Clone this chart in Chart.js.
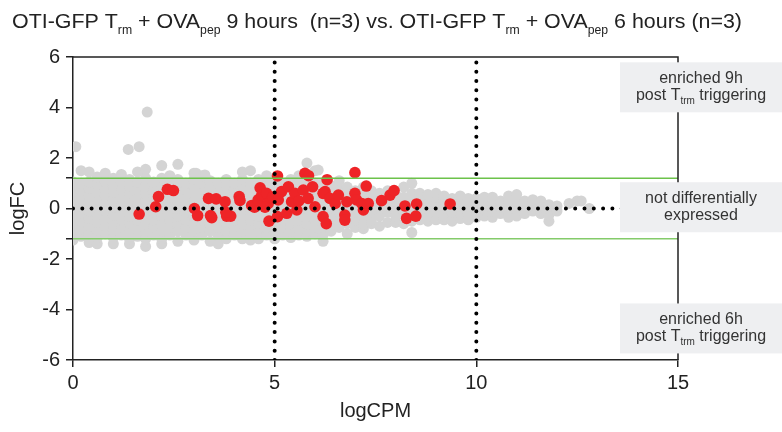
<!DOCTYPE html>
<html>
<head>
<meta charset="utf-8">
<script src="https://cdn.jsdelivr.net/npm/chart.js@4.4.1/dist/chart.umd.min.js"></script>
<style>
  html, body { margin: 0; padding: 0; background: #fff; }
</style>
</head>
<body>
<canvas id="chart" width="782" height="432"></canvas>
<script>
// axis ticks and cut-offs
const xTicks = [0, 5, 10, 15];
const yTicks = [-6, -4, -2, -1.2, 0, 1.2, 2, 4, 6];
const foldCut = 1.2;
const cpmCuts = [5, 10];

// title pieces: [text, isSubscript]
const titleParts = [
    ["OTI-GFP T", false], ["rm", true], [" + OVA", false], ["pep", true],
    [" 9 hours  (n=3) vs. OTI-GFP T", false], ["rm", true], [" + OVA", false], ["pep", true],
    [" 6 hours (n=3)", false]
];

// side labels: [logFC centre, line 1, line 2 parts]
const sideLabels = [
    [4.8, "enriched 9h", [["post T", false], ["trm", true], [" triggering", false]]],
    [0.05, "not differentially", [["expressed", false]]],
    [-4.75, "enriched 6h", [["post T", false], ["trm", true], [" triggering", false]]]
];

// all genes, read column by column: [logCPM, [logFC, ...]]
const grayCloud = [
    [0.0, [-1.25, -0.95, -0.65, -0.35, -0.05, 0.25, 0.55, 0.85, 1.05]],
    [0.2, [-1.1, -0.8, -0.5, -0.2, 0.1, 0.4, 0.7, 1.0, 1.5]],
    [0.4, [-1.35, -1.0, -0.7, -0.4, -0.1, 0.2, 0.5, 0.8, 1.05, 1.45]],
    [0.6, [-1.4, -1.15, -0.85, -0.55, -0.25, 0.05, 0.35, 0.65, 0.95, 1.25]],
    [0.8, [-1.0, -0.7, -0.4, -0.1, 0.2, 0.5, 0.8, 1.05, 1.4]],
    [1.0, [-1.4, -1.15, -0.85, -0.55, -0.25, 0.05, 0.35, 0.65, 0.95, 1.2]],
    [1.2, [-1.05, -0.75, -0.45, -0.15, 0.15, 0.45, 0.75, 1.05, 1.35]],
    [1.4, [-1.4, -1.2, -0.9, -0.6, -0.3, 0, 0.3, 0.6, 0.9, 1.15]],
    [1.6, [-1.1, -0.75, -0.45, -0.15, 0.15, 0.45, 0.75, 1.05, 1.45]],
    [1.8, [-1.5, -1.2, -0.9, -0.6, -0.3, 0, 0.3, 0.6, 0.9, 1.2, 1.55]],
    [2.0, [-1.05, -0.75, -0.45, -0.15, 0.15, 0.45, 0.75, 1.05]],
    [2.2, [-1.4, -1.2, -0.9, -0.6, -0.3, 0, 0.3, 0.6, 0.9, 1.2, 1.7]],
    [2.4, [-1.05, -0.75, -0.45, -0.15, 0.15, 0.45, 0.75, 1.05, 1.3]],
    [2.6, [-1.3, -0.9, -0.6, -0.3, 0, 0.3, 0.6, 0.9, 1.15, 1.75]],
    [2.8, [-1.05, -0.75, -0.45, -0.15, 0.15, 0.45, 0.75, 1.0]],
    [3.0, [-1.25, -0.9, -0.6, -0.3, 0, 0.3, 0.6, 0.9, 1.15, 1.4]],
    [3.2, [-1.05, -0.75, -0.45, -0.15, 0.15, 0.45, 0.75, 1.0, 1.3]],
    [3.4, [-1.3, -0.9, -0.6, -0.3, 0, 0.3, 0.6, 0.9, 1.1]],
    [3.6, [-1.4, -1.05, -0.75, -0.45, -0.15, 0.15, 0.45, 0.75, 1.0]],
    [3.8, [-1.2, -0.9, -0.6, -0.3, 0, 0.3, 0.6, 0.9, 1.15]],
    [4.0, [-1.05, -0.75, -0.45, -0.15, 0.15, 0.45, 0.75, 1.0]],
    [4.2, [-1.2, -0.9, -0.6, -0.3, 0, 0.3, 0.6, 0.9, 1.15, 1.45]],
    [4.4, [-1.25, -1.05, -0.75, -0.45, -0.15, 0.15, 0.45, 0.75, 1.0, 1.5]],
    [4.6, [-1.2, -0.9, -0.6, -0.3, 0, 0.3, 0.6, 0.9, 1.15]],
    [4.8, [-1.05, -0.75, -0.45, -0.15, 0.15, 0.45, 0.75, 1.0, 1.3]],
    [5.0, [-1.2, -0.9, -0.6, -0.3, 0, 0.3, 0.6, 0.9, 1.1]],
    [5.2, [-1.05, -0.75, -0.45, -0.15, 0.15, 0.45, 0.75, 1.0]],
    [5.4, [-1.15, -0.9, -0.6, -0.3, 0, 0.3, 0.6, 0.9, 1.15]],
    [5.6, [-1.05, -0.75, -0.45, -0.15, 0.15, 0.45, 0.75, 1.0, 1.3]],
    [5.8, [-1.1, -0.9, -0.6, -0.3, 0, 0.3, 0.6, 0.9, 1.15, 1.8]],
    [6.0, [-1.0, -0.75, -0.45, -0.15, 0.15, 0.45, 0.75, 1.0, 1.5]],
    [6.2, [-1.3, -1.05, -0.75, -0.45, -0.15, 0.15, 0.45, 0.75, 1.0]],
    [6.4, [-0.9, -0.6, -0.3, 0, 0.3, 0.6, 0.9]],
    [6.6, [-0.75, -0.45, -0.15, 0.15, 0.45, 0.75, 1.1]],
    [6.8, [-1.0, -0.6, -0.3, 0, 0.3, 0.6, 0.85]],
    [7.0, [-0.75, -0.45, -0.15, 0.15, 0.45, 0.7]],
    [7.2, [-0.8, -0.6, -0.3, 0, 0.3, 0.6, 0.85]],
    [7.4, [-0.6, -0.45, -0.15, 0.15, 0.45, 0.7]],
    [7.6, [-0.7, -0.3, 0, 0.3, 0.6]],
    [7.8, [-0.55, -0.15, 0.15, 0.45, 0.7]],
    [8.0, [-0.55, -0.3, 0, 0.3, 0.55]],
    [8.2, [-0.6, -0.15, 0.15, 0.45, 0.85]],
    [8.4, [-0.95, -0.5, -0.3, 0, 0.3, 0.6, 1.0]],
    [8.6, [-0.45, -0.15, 0.15, 0.45, 0.6]],
    [8.8, [-0.5, -0.3, 0, 0.3, 0.55]],
    [9.0, [-0.45, -0.15, 0.15, 0.45, 0.6]],
    [9.2, [-0.45, -0.3, 0, 0.3, 0.5]],
    [9.4, [-0.5, -0.15, 0.15, 0.4]],
    [9.6, [-0.4, -0.2, 0, 0.3, 0.5]],
    [9.8, [-0.45, -0.15, 0.15, 0.4]],
    [10.0, [-0.35, -0.1, 0.15, 0.4]],
    [10.2, [-0.3, -0.05, 0.2, 0.45]],
    [10.4, [-0.35, -0.1, 0.15, 0.45]],
    [10.6, [-0.2, 0.05, 0.3]],
    [10.8, [-0.35, -0.1, 0.2, 0.5]],
    [11.0, [-0.3, 0, 0.3, 0.55]],
    [11.2, [-0.2, 0.05, 0.3]],
    [11.4, [-0.1, 0.15, 0.35]],
    [11.6, [-0.2, 0.05, 0.3]],
    [11.8, [-0.5, -0.25, 0, 0.15]],
    [12.0, [-0.1, 0.1]],
    [12.3, [0.2]],
    [12.5, [0.3]],
    [12.6, [0.3]],
    [12.8, [0.0]]
];
const grayOutliers = [[0.07, 2.45], [1.37, 2.34], [1.64, 2.45], [1.84, 3.82], [3.05, 1.4], [3.27, 1.33], [6.08, 1.52]];

// differentially expressed genes [logCPM, logFC]
const redPoints = [
    [1.64, -0.22], [2.05, 0.07], [2.12, 0.47], [2.34, 0.76], [2.49, 0.71],
    [3.01, 0.0], [3.09, -0.28], [3.36, 0.4], [3.55, 0.38], [3.41, -0.28],
    [3.44, -0.36], [3.77, 0.27], [3.81, -0.3], [3.91, -0.3], [3.79, -0.15],
    [4.12, 0.47], [4.14, 0.32], [4.43, 0.12], [4.5, 0.05], [4.64, 0.82],
    [4.59, 0.34], [4.68, 0.53], [4.8, 0.6], [4.84, 0.2], [4.76, 0.05],
    [4.86, -0.5], [4.95, 0.45], [5.07, 1.29], [5.07, -0.32], [5.09, 0.34],
    [5.17, 0.67], [5.34, 0.86], [5.3, -0.19], [5.42, 0.27], [5.5, 0.6],
    [5.6, 0.3], [5.55, -0.06], [5.75, 1.39], [5.84, 1.3], [5.71, 0.73],
    [5.83, 0.4], [5.94, 0.86], [6.0, 0.07], [6.25, 0.67], [6.3, 1.14],
    [6.2, -0.32], [6.28, -0.6], [6.2, 0.6], [6.37, 0.4], [6.5, 0.2],
    [6.58, 0.53], [6.74, -0.26], [6.74, -0.46], [6.79, 0.27], [6.99, 1.42],
    [6.99, 0.6], [7.03, 0.34], [7.27, 0.89], [7.16, 0.2], [7.2, -0.06],
    [7.32, 0.2], [7.65, 0.31], [7.86, 0.53], [7.96, 0.71], [8.23, 0.1],
    [8.27, -0.39], [8.52, 0.18], [8.5, -0.3], [9.35, 0.18]
];

const FONT = "'Liberation Sans', Arial, sans-serif";
const INK = "#222";

const grayData = [];
grayCloud.forEach(([x, ys]) => ys.forEach(y => grayData.push({ x, y })));
grayOutliers.forEach(([x, y]) => grayData.push({ x, y }));
const redData = redPoints.map(([x, y]) => ({ x, y }));

const refLine = (data, color, width, dash) => ({
    type: "line",
    data,
    borderColor: color,
    borderWidth: width,
    borderDash: dash || [],
    borderCapStyle: dash ? "round" : "butt",
    pointRadius: 0,
    fill: false,
    showLine: true
});

// draws a run of text with subscripts, returns width
function runWidth(ctx, parts, size, subSize) {
    let w = 0;
    parts.forEach(([t, sub]) => {
        ctx.font = `${sub ? subSize : size}px ${FONT}`;
        w += ctx.measureText(t).width;
    });
    return w;
}
function drawRun(ctx, parts, x, y, size, subSize, subDrop) {
    parts.forEach(([t, sub]) => {
        ctx.font = `${sub ? subSize : size}px ${FONT}`;
        ctx.fillText(t, x, sub ? y + subDrop : y);
        x += ctx.measureText(t).width;
    });
}

const decorations = {
    id: "decorations",
    afterDraw(chart) {
        const { ctx, chartArea, scales } = chart;
        ctx.save();
        // top and right frame
        ctx.strokeStyle = INK;
        ctx.lineWidth = 1.5;
        ctx.beginPath();
        ctx.moveTo(chartArea.left, chartArea.top);
        ctx.lineTo(chartArea.right, chartArea.top);
        ctx.lineTo(chartArea.right, chartArea.bottom);
        ctx.stroke();

        // title
        ctx.fillStyle = INK;
        ctx.textAlign = "left";
        ctx.textBaseline = "alphabetic";
        const tw = runWidth(ctx, titleParts, 21, 12);
        const target = 730;
        ctx.save();
        ctx.translate(377 - target / 2, 0);
        ctx.scale(target / tw, 1);
        drawRun(ctx, titleParts, 0, 28, 21, 12, 6);
        ctx.restore();

        // side boxes
        const bx = chartArea.right - 58;
        const bw = 782 - bx;
        sideLabels.forEach(([val, line1, line2]) => {
            const cy = scales.y.getPixelForValue(val);
            ctx.fillStyle = "#eeeff1";
            ctx.fillRect(bx, cy - 25, bw, 50);
            ctx.fillStyle = "#333";
            const cx = bx + bw / 2;
            ctx.font = `16px ${FONT}`;
            ctx.textAlign = "center";
            ctx.fillText(line1, cx, cy - 4);
            ctx.textAlign = "left";
            const w2 = runWidth(ctx, line2, 16, 10);
            drawRun(ctx, line2, cx - w2 / 2, cy + 13, 16, 10, 4);
        });
        ctx.restore();
    }
};

new Chart(document.getElementById("chart"), {
    type: "scatter",
    data: {
        datasets: [
            refLine([{ x: cpmCuts[0], y: -6 }, { x: cpmCuts[0], y: 6 }], "#000", 4, [0, 9.3]),
            refLine([{ x: cpmCuts[1], y: -6 }, { x: cpmCuts[1], y: 6 }], "#000", 4, [0, 9.3]),
            refLine([{ x: 0, y: 0 }, { x: 15, y: 0 }], "#000", 4, [0, 9.3]),
            refLine([{ x: 0, y: foldCut }, { x: 15, y: foldCut }], "#6cc24a", 1.6),
            refLine([{ x: 0, y: -foldCut }, { x: 15, y: -foldCut }], "#84cb6a", 1.6),
            { label: "DE", data: redData, backgroundColor: "#ee2427", borderWidth: 0, pointRadius: 5.8 },
            { label: "all", data: grayData, backgroundColor: "#d4d4d4", borderWidth: 0, pointRadius: 5.5 }
        ]
    },
    options: {
        responsive: false,
        animation: false,
        layout: { padding: { top: 57, right: 104, left: 0, bottom: 0 } },
        plugins: { legend: { display: false }, tooltip: { enabled: false } },
        scales: {
            x: {
                type: "linear",
                min: 0,
                max: 15,
                afterBuildTicks: scale => { scale.ticks = xTicks.map(value => ({ value })); },
                afterFit: scale => { scale.height = 72; },
                ticks: { font: { family: FONT, size: 20 }, color: INK, padding: 4 },
                grid: { drawOnChartArea: false, drawTicks: true, tickLength: 7, color: INK, lineWidth: 1.5 },
                border: { display: true, color: INK, width: 1.5 },
                title: { display: true, text: "logCPM", font: { family: FONT, size: 20 }, color: INK, padding: { bottom: 9 } }
            },
            y: {
                min: -6,
                max: 6,
                afterBuildTicks: scale => { scale.ticks = yTicks.map(value => ({ value })); },
                afterFit: scale => { scale.width = 73; },
                ticks: {
                    autoSkip: false,
                    font: { family: FONT, size: 20 },
                    color: INK,
                    padding: 6,
                    callback: v => (Math.abs(v) === foldCut ? "" : v)
                },
                grid: { drawOnChartArea: false, drawTicks: true, tickLength: 7, color: INK, lineWidth: 1.5 },
                border: { display: true, color: INK, width: 1.5 },
                title: { display: true, text: "logFC", font: { family: FONT, size: 20 }, color: INK, padding: { top: 6 } }
            }
        }
    },
    plugins: [decorations]
});
</script>
</body>
</html>
